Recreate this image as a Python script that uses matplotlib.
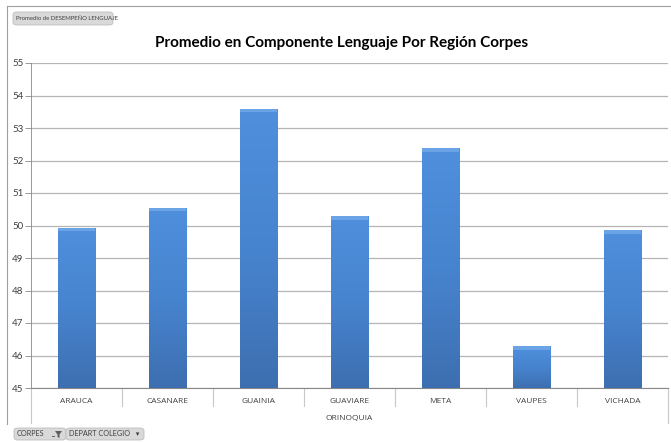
import numpy as np
import matplotlib
matplotlib.use('Agg')
import matplotlib.pyplot as plt
from matplotlib.colors import LinearSegmentedColormap
from matplotlib.patches import FancyBboxPatch, Polygon
from matplotlib.lines import Line2D

departamentos = ['ARAUCA', 'CASANARE', 'GUAINIA', 'GUAVIARE', 'META', 'VAUPES', 'VICHADA']
promedios = [49.93, 50.55, 53.58, 50.28, 52.37, 46.28, 49.85]
region = 'ORINOQUIA'
titulo = 'Promedio en Componente Lenguaje Por Región Corpes'
y_min, y_max = 45, 55

W, H = 671, 442


def px(x, y):
    # pixel coords (top-left origin) -> figure fraction
    return x / W, 1 - y / H


def boton(fig, x0, y0, w, h, texto, size=5.5):
    caja = FancyBboxPatch(px(x0, y0 + h), w / W, h / H,
                          boxstyle='round,pad=0,rounding_size=0.006',
                          transform=fig.transFigure, facecolor='#d9d9d9',
                          edgecolor='#bdbdbd', linewidth=0.6)
    fig.patches.append(caja)
    fig.text(*px(x0 + 3, y0 + h / 2), texto, fontsize=size,
             color='#404040', va='center', ha='left', family=['Lato', 'DejaVu Sans'])


def main():
    fig = plt.figure(figsize=(6.71, 4.42), dpi=100)
    ax = fig.add_axes([31 / W, 1 - 388 / H, 637 / W, 325 / H])

    x = np.arange(len(departamentos))
    barras = ax.bar(x, [p - y_min for p in promedios], bottom=y_min, width=0.41,
                    color='#4a84cc', edgecolor='#3b6aa6', linewidth=0.6, zorder=3)

    # vertical gradient inside each bar
    cmap = LinearSegmentedColormap.from_list('excel', ['#3d6fb0', '#4784cf', '#4f8fdc'])
    grad = np.linspace(0, 1, 256).reshape(-1, 1)
    for b in barras:
        bx, by = b.get_x(), b.get_y()
        bw, bh = b.get_width(), b.get_height()
        im = ax.imshow(grad, cmap=cmap, aspect='auto', origin='lower',
                       extent=[bx, bx + bw, by, by + bh], zorder=3.5)
        im.set_clip_path(b)
        ax.add_patch(plt.Rectangle((bx, by + bh - 0.1), bw, 0.1, color='#6aa3e6',
                                   zorder=4, linewidth=0))

    ax.set_xlim(-0.5, len(departamentos) - 0.5)
    ax.set_ylim(y_min, y_max)
    ax.set_yticks(range(y_min, y_max + 1))
    ax.tick_params(axis='y', labelsize=7, colors='#404040', length=4, width=0.6,
                   color='#888888', pad=1.5)
    ax.set_xticks(x)
    ax.set_xticklabels(departamentos, fontsize=6, color='#404040', family='Open Sans')
    ax.tick_params(axis='x', length=0, pad=7)
    for lab in ax.get_yticklabels():
        lab.set_family('Lato')
    ax.grid(axis='y', color='#b4b4b4', linewidth=0.9, zorder=0)
    ax.set_axisbelow(True)
    for s in ['top', 'right']:
        ax.spines[s].set_visible(False)
    ax.spines['left'].set_color('#888888')
    ax.spines['bottom'].set_color('#888888')
    ax.spines['left'].set_linewidth(0.6)
    ax.spines['bottom'].set_linewidth(0.8)

    # category separators and group box
    tr = ax.get_xaxis_transform()
    for k in range(len(departamentos) + 1):
        bajo = -0.108 if k in (0, len(departamentos)) else -0.055
        ax.add_line(Line2D([k - 0.5, k - 0.5], [0, bajo], transform=tr, color='#c8c8c8',
                           linewidth=0.8, clip_on=False))
    ax.text(0.5, -0.095, region, transform=ax.transAxes, ha='center', va='center',
            fontsize=6, color='#404040', family='Open Sans')

    # outer chart frame
    fig.add_artist(Line2D([7 / W, 7 / W], [1 - 6 / H, 1 - 424 / H], color='#a0a0a0',
                          linewidth=0.8, transform=fig.transFigure))
    fig.add_artist(Line2D([7 / W, 1], [1 - 6 / H, 1 - 6 / H], color='#a0a0a0',
                          linewidth=0.8, transform=fig.transFigure))

    fig.text(*px(342, 43), titulo, ha='center', va='center', fontsize=11,
             fontweight='bold', family='Lato', color='black')

    boton(fig, 13, 12, 100, 13, 'Promedio de DESEMPEÑO LENGUAJE', size=4.3)
    boton(fig, 14, 428, 52, 12, 'CORPES', size=5.2)
    boton(fig, 66, 428, 78, 12, 'DEPART COLEGIO   \u25be', size=5.2)

    # filter funnel icon on the CORPES button
    embudo = Polygon([px(55, 431), px(62, 431), px(59.5, 434.5), px(59.5, 438),
                      px(57.5, 437), px(57.5, 434.5)], closed=True,
                     transform=fig.transFigure, facecolor='#606060', edgecolor='none')
    fig.patches.append(embudo)
    fig.add_artist(Line2D([px(52, 436)[0], px(54, 436)[0]], [px(52, 436)[1], px(54, 436)[1]],
                          color='#606060', linewidth=0.7, transform=fig.transFigure))

    fig.savefig('out.png', dpi=100)


if __name__ == "__main__":
    main()
